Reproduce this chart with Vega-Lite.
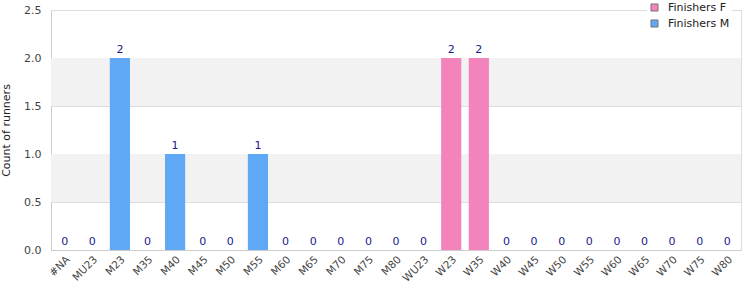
{
  "$schema": "https://vega.github.io/schema/vega-lite/v6.json",
  "width": 690,
  "height": 240,
  "autosize": {"type": "none"},
  "padding": {"left": 51, "top": 10, "right": 9, "bottom": 50},
  "background": "white",
  "config": {
    "view": {"stroke": "#dddddd"},
    "font": "DejaVu Sans",
    "axis": {"labelColor": "#444444", "labelFontSize": 11, "titleFontSize": 11, "titleColor": "#222222", "titleFontWeight": "normal", "domainColor": "#cccccc", "gridColor": "#dddddd", "ticks": false}
  },
  "layer": [
    {
      "data": {"values": [{"lo": 0.5, "hi": 1.0}, {"lo": 1.5, "hi": 2.0}]},
      "mark": {"type": "rect", "color": "#f2f2f2"},
      "encoding": {
        "x": {"value": 0},
        "x2": {"value": "width"},
        "y": {"field": "lo", "type": "quantitative", "scale": {"domain": [0, 2.5], "nice": false}},
        "y2": {"field": "hi"}
      }
    },
    {
      "data": {"values": [
        {"cat": "#NA", "count": 0, "series": "Finishers M"},
        {"cat": "MU23", "count": 0, "series": "Finishers M"},
        {"cat": "M23", "count": 2, "series": "Finishers M"},
        {"cat": "M35", "count": 0, "series": "Finishers M"},
        {"cat": "M40", "count": 1, "series": "Finishers M"},
        {"cat": "M45", "count": 0, "series": "Finishers M"},
        {"cat": "M50", "count": 0, "series": "Finishers M"},
        {"cat": "M55", "count": 1, "series": "Finishers M"},
        {"cat": "M60", "count": 0, "series": "Finishers M"},
        {"cat": "M65", "count": 0, "series": "Finishers M"},
        {"cat": "M70", "count": 0, "series": "Finishers M"},
        {"cat": "M75", "count": 0, "series": "Finishers M"},
        {"cat": "M80", "count": 0, "series": "Finishers M"},
        {"cat": "WU23", "count": 0, "series": "Finishers F"},
        {"cat": "W23", "count": 2, "series": "Finishers F"},
        {"cat": "W35", "count": 2, "series": "Finishers F"},
        {"cat": "W40", "count": 0, "series": "Finishers F"},
        {"cat": "W45", "count": 0, "series": "Finishers F"},
        {"cat": "W50", "count": 0, "series": "Finishers F"},
        {"cat": "W55", "count": 0, "series": "Finishers F"},
        {"cat": "W60", "count": 0, "series": "Finishers F"},
        {"cat": "W65", "count": 0, "series": "Finishers F"},
        {"cat": "W70", "count": 0, "series": "Finishers F"},
        {"cat": "W75", "count": 0, "series": "Finishers F"},
        {"cat": "W80", "count": 0, "series": "Finishers F"}
      ]},
      "encoding": {
        "x": {"field": "cat", "type": "nominal", "sort": null, "title": null,
              "scale": {"paddingInner": 0.27, "paddingOuter": 0.13},
              "axis": {"labelAngle": -45, "labelPadding": 4, "labelFontSize": 10.5, "domainColor": "#cccccc"}},
        "y": {"field": "count", "type": "quantitative", "title": "Count of runners",
              "scale": {"domain": [0, 2.5], "nice": false},
              "axis": {"values": [0, 0.5, 1, 1.5, 2, 2.5], "format": ".1f", "labelPadding": 10, "titleFontSize": 11, "titlePadding": 12}}
      },
      "layer": [
        {
          "mark": {"type": "bar"},
          "encoding": {
            "color": {"field": "series", "type": "nominal",
              "scale": {"domain": ["Finishers F", "Finishers M"], "range": ["#f283bb", "#5fa8f5"]},
              "legend": {"title": null, "orient": "none", "legendX": 596, "legendY": -10, "fillColor": "white", "padding": 2, "symbolType": "square", "symbolSize": 50, "symbolStrokeColor": "#777777", "symbolStrokeWidth": 1, "labelFontSize": 11, "labelColor": "#222222", "labelOffset": 8, "rowPadding": 3}}
          }
        },
        {
          "mark": {"type": "text", "baseline": "bottom", "dy": -3, "fontSize": 11, "color": "#1a1a8c"},
          "encoding": {"text": {"field": "count", "type": "quantitative"}}
        }
      ]
    }
  ]
}
